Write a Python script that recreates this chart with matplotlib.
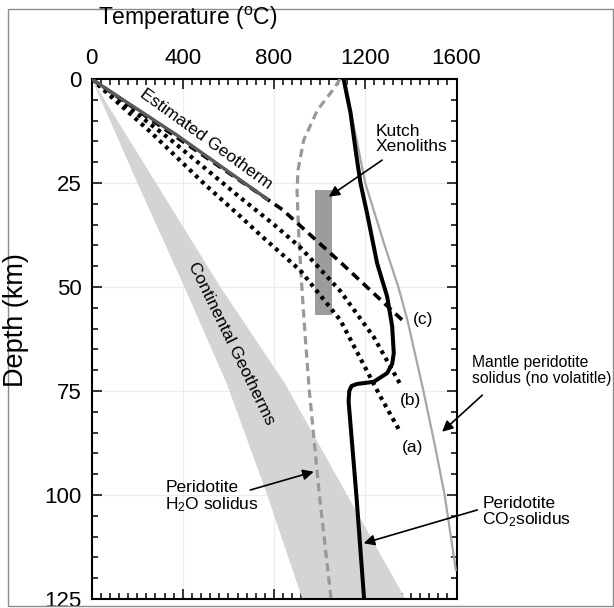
import matplotlib

matplotlib.use("Agg")
import matplotlib.pyplot as plt
from matplotlib.patches import Rectangle
from matplotlib.ticker import MultipleLocator

plt.rcParams["font.family"] = ["Liberation Sans", "DejaVu Sans"]
plt.rcParams["mathtext.fontset"] = "custom"
plt.rcParams["mathtext.rm"] = "Liberation Sans"
plt.rcParams["mathtext.it"] = "Liberation Sans:italic"

# continental geotherm band (temperature at depth), left and right edges
band_depth = [0, 25, 50, 73, 100, 125]
band_t_cold = [0, 200, 406, 590, 769, 923]
band_t_hot = [0, 282, 564, 845, 1120, 1375]

# estimated geotherm
geo_t = [0, 374, 776]
geo_d = [0, 13.5, 29.1]

# model geotherms (a), (b), (c)
a_t = [0, 264, 500, 652, 740, 915, 1091, 1267, 1355]
a_d = [0, 13, 25.5, 33, 37.5, 46, 58, 76.4, 85]
b_t = [0, 345, 652, 800, 916, 1091, 1237, 1360]
b_d = [0, 14.5, 28.5, 35, 40.5, 51, 62, 74]
c_t = [0, 400, 837, 1100, 1369]
c_d = [0, 15.0, 31.4, 44.5, 58.3]

# peridotite + H2O solidus
h2o_t = [1090, 1060, 990, 930, 905, 901, 909, 922, 937, 955, 999, 1050]
h2o_d = [0, 2.5, 7.5, 14.7, 22, 27, 38, 50, 62, 75, 100, 125]

# peridotite + CO2 solidus
co2_t = [1105, 1135, 1160, 1179, 1208, 1252, 1296, 1318, 1325, 1318, 1296,
         1237, 1164, 1140, 1130, 1127, 1161, 1195]
co2_d = [0, 8, 18, 25, 32.3, 44.3, 52.3, 59.5, 65.9, 68.5, 70.7,
         72.8, 73.3, 73.8, 75, 77.5, 100, 125]

# volatile-free mantle peridotite solidus
dry_t = [1110, 1145, 1200, 1285, 1345, 1385, 1455, 1505, 1548, 1597]
dry_d = [0, 10, 25, 40, 50, 58, 75, 88, 100, 118]

# Kutch xenolith P-T range
xeno_t = [980, 1055]
xeno_d = [26.7, 56.7]

fig = plt.figure(figsize=(6.14, 6.08), dpi=100)
ax = fig.add_axes([91.5 / 614, 1 - 599 / 608, 365 / 614, 520 / 608])

ax.fill_betweenx(band_depth, band_t_cold, band_t_hot, color="#d4d4d4", lw=0, zorder=1)
ax.add_patch(Rectangle((xeno_t[0], xeno_d[0]), xeno_t[1] - xeno_t[0], xeno_d[1] - xeno_d[0],
                       color="#9c9c9c", lw=0, zorder=2))

ax.plot(dry_t, dry_d, color="#a6a6a6", lw=1.6, zorder=3)
ax.plot(h2o_t, h2o_d, color="#999999", lw=2.3, dashes=(2.6, 1.6), zorder=3)
ax.plot(c_t, c_d, color="black", lw=2.6, dashes=(2.5, 1.6), zorder=4)
ax.plot(b_t, b_d, color="black", lw=3.0, dashes=(0.9, 1.1), zorder=4)
ax.plot(a_t, a_d, color="black", lw=3.0, dashes=(0.9, 1.1), zorder=4)
ax.plot(geo_t, geo_d, color="#5a5a5a", lw=2.5, solid_capstyle="butt", zorder=5)
ax.plot(co2_t, co2_d, color="black", lw=2.9, zorder=6)

ax.set_xlim(0, 1600)
ax.set_ylim(125, 0)
ax.xaxis.set_major_locator(MultipleLocator(400))
ax.xaxis.set_minor_locator(MultipleLocator(40))
ax.yaxis.set_major_locator(MultipleLocator(25))
ax.yaxis.set_minor_locator(MultipleLocator(5))
ax.tick_params(which="both", direction="in", top=True, bottom=True, left=True, right=True,
               labeltop=True, labelbottom=False, width=1.1, labelsize=16)
ax.tick_params(which="major", length=7, pad=7)
ax.tick_params(which="minor", length=4)
ax.grid(True, which="major", color="#ececec", lw=0.8)
ax.set_axisbelow(True)
for s in ax.spines.values():
    s.set_linewidth(1.5)

fig.text(188 / 614, 1 - 18 / 608, "Temperature ($^{\\rm o}$C)", fontsize=16.5,
         ha="center", va="center")
fig.text(16 / 614, 1 - 320 / 608, "Depth (km)", fontsize=19.5, rotation=90,
         ha="center", va="center")

fs = 12.5
ax.text(503, 14.4, "Estimated Geotherm", fontsize=12.5, rotation=-36,
        ha="center", va="center", rotation_mode="anchor")
ax.text(613, 63.5, "Continental Geotherms", fontsize=12.5, rotation=-64,
        ha="center", va="center", rotation_mode="anchor")
ax.text(1245, 14.4, "Kutch\nXenoliths", fontsize=fs, ha="left", va="center", linespacing=1.0)
ax.text(1455, 57.9, "(c)", fontsize=fs, ha="center", va="center")
ax.text(1398, 77.2, "(b)", fontsize=fs, ha="center", va="center")
ax.text(1407, 88.5, "(a)", fontsize=fs, ha="center", va="center")
ax.text(1669, 70, "Mantle peridotite\nsolidus (no volatitle)", fontsize=11.3,
        ha="left", va="center", linespacing=1.05, clip_on=False)
ax.text(323, 100.5, "Peridotite\nH$_2$O solidus", fontsize=fs, ha="left", va="center",
        linespacing=1.0)
ax.text(1713, 104.2, "Peridotite\nCO$_2$solidus", fontsize=fs, ha="left", va="center",
        linespacing=0.95, clip_on=False)

arrow = dict(arrowstyle="-|>", color="black", lw=1.2, mutation_scale=16, shrinkA=0, shrinkB=0)
ax.annotate("", xy=(1040, 28.3), xytext=(1274, 19.5), arrowprops=arrow, annotation_clip=False)
ax.annotate("", xy=(974, 94.4), xytext=(696, 98.8), arrowprops=arrow, annotation_clip=False)
ax.annotate("", xy=(1193, 111.6), xytext=(1691, 103.6), arrowprops=arrow, annotation_clip=False)
ax.annotate("", xy=(1537, 84.8), xytext=(1713, 76), arrowprops=arrow, annotation_clip=False)

# thin frame around the whole picture
fig.patches.append(Rectangle((8 / 614, 2 / 608), 605 / 614, 597 / 608, transform=fig.transFigure,
                             fill=False, edgecolor="#8c8c8c", lw=1.0))

fig.savefig("out.png", dpi=100)
plt.close(fig)
